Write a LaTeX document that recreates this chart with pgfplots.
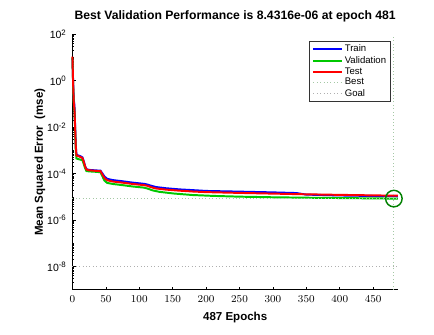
\documentclass[border=0pt]{standalone}
\usepackage{fontspec}
\setmainfont{Liberation Sans}
\usepackage{pgfplots}
\pgfplotsset{compat=1.18}
\definecolor{mtrain}{RGB}{0,0,255}
\definecolor{mval}{RGB}{0,200,0}
\definecolor{mtest}{RGB}{255,0,0}
\definecolor{mbest}{RGB}{165,200,165}
\definecolor{mgoal}{RGB}{175,175,175}
\definecolor{mcirc}{RGB}{0,128,0}

\begin{document}
% minor ticks of the log axis, 2..9 in each decade plus the odd decades
\def\minorlist{1e-9,1e-7,1e-5,1e-3,1e-1,1e1}
\foreach \e in {-9,...,1}{\foreach \m in {2,...,9}{\xdef\minorlist{\minorlist,\m e\e}}}
\begin{tikzpicture}
\useasboundingbox (-49.7pt,-34pt) rectangle (275.8pt,221pt);
\begin{axis}[
    scale only axis,
    width=248.25pt, height=194.8pt,
    at={(0,0)}, anchor=south west,
    ymode=log,
    xmin=0, xmax=487,
    ymin=1e-9, ymax=1e2,
    axis x line*=bottom, axis y line*=left,
    axis line style={line width=0.6pt},
    tick align=inside,
    major tick length=2.4pt, minor tick length=1.4pt,
    every tick/.style={black, line width=0.5pt},
    xtick={0,50,...,450},
    ytick={1e-8,1e-6,1e-4,1e-2,1,1e2},
    yticklabels={10\textsuperscript{-8},10\textsuperscript{-6},10\textsuperscript{-4},10\textsuperscript{-2},10\textsuperscript{0},10\textsuperscript{2}},
    minor ytick/.expanded={\minorlist},
    tick label style={font=\fontsize{8}{9.5}\selectfont},
    xticklabel style={yshift=-1pt},
    yticklabel style={xshift=-1pt},
    title={Best Validation Performance is 8.4316e-06 at epoch 481},
    title style={font=\fontsize{9.3}{11}\bfseries, at={(axis description cs:0.5,1.0385)}, anchor=center},
    xlabel={487 Epochs},
    xlabel style={font=\fontsize{8.8}{10}\bfseries, at={(axis description cs:0.5,-0.108)}, anchor=center},
    ylabel={Mean Squared Error \ (mse)},
    ylabel style={font=\fontsize{8.8}{10}\bfseries, at={(axis description cs:-0.1,0.5)}, anchor=center},
    clip=false,
    legend image code/.code={\draw[#1] (0pt,0pt) -- (22pt,0pt);},
    legend cell align=left,
    legend style={at={(axis description cs:0.978,0.974)}, anchor=north east,
        font=\fontsize{7.3}{8}\selectfont, draw=black!80, line width=0.6pt,
        inner xsep=2pt, inner ysep=1.5pt, row sep=-0.6pt,
        nodes={inner sep=1.2pt}},
]
\addplot[mtrain, line width=1.5pt] coordinates {
  (0,9) (1,1.0) (2,0.15) (3,0.09) (4,0.012) (5,1.7e-3) (6,6.5e-4)
  (8,6.2e-4) (12,5.6e-4) (15,5e-4) (17,3.4e-4) (19,2.1e-4) (21,1.55e-4)
  (25,1.45e-4) (35,1.38e-4) (42,1.34e-4) (45,1e-4) (48,7.5e-5) (52,6e-5)
  (60,5.3e-5) (75,4.7e-5) (90,4.1e-5) (107,3.65e-5) (112,3.4e-5) (118,3e-5)
  (125,2.65e-5) (140,2.35e-5) (160,2.1e-5) (180,1.95e-5) (200,1.8e-5)
  (250,1.68e-5) (300,1.56e-5) (335,1.46e-5) (350,1.25e-5) (400,1.15e-5)
  (450,1.09e-5) (487,1.06e-5)
};
\addlegendentry{Train}
\addplot[mval, line width=1.5pt] coordinates {
  (0,10) (1,0.7) (2,0.1) (3,0.05) (4,8e-3) (5,1e-3) (6,4.5e-4)
  (8,4.3e-4) (12,4e-4) (15,3.8e-4) (17,2.6e-4) (19,1.7e-4) (21,1.3e-4)
  (25,1.25e-4) (35,1.2e-4) (42,1.15e-4) (45,7.5e-5) (48,5e-5) (52,4e-5)
  (60,3.6e-5) (75,3.2e-5) (90,2.8e-5) (107,2.5e-5) (112,2.3e-5) (120,1.9e-5)
  (130,1.65e-5) (151,1.4e-5) (180,1.2e-5) (211,1.1e-5) (250,1.02e-5)
  (300,9.6e-6) (350,9.2e-6) (400,8.9e-6) (450,8.6e-6) (481,8.4316e-6) (487,8.45e-6)
};
\addlegendentry{Validation}
\addplot[mtest, line width=1.5pt] coordinates {
  (0,11) (1,0.8) (2,0.12) (3,0.06) (4,0.01) (5,1.5e-3) (6,6e-4)
  (8,5.8e-4) (12,5.2e-4) (15,4.7e-4) (17,3.2e-4) (19,2e-4) (21,1.5e-4)
  (25,1.4e-4) (35,1.32e-4) (42,1.28e-4) (45,9e-5) (48,6.5e-5) (52,5.2e-5)
  (60,4.6e-5) (75,4.1e-5) (90,3.6e-5) (107,3.2e-5) (112,3e-5) (118,2.6e-5)
  (125,2.3e-5) (140,2.05e-5) (160,1.85e-5) (180,1.7e-5) (200,1.6e-5)
  (250,1.48e-5) (300,1.38e-5) (343,1.3e-5) (400,1.22e-5) (450,1.16e-5) (487,1.12e-5)
};
\addlegendentry{Test}
\addplot[mbest, dotted, line width=0.6pt] coordinates {(0,8.4316e-6) (487,8.4316e-6)};
\addlegendentry{Best}
\addplot[mgoal, dotted, line width=0.6pt] coordinates {(0,1e-8) (487,1e-8)};
\addlegendentry{Goal}
\addplot[mbest, dotted, line width=0.6pt, forget plot] coordinates {(481,1e-9) (481,1e2)};
\addplot[mcirc, only marks, mark=o, mark size=6.3pt, mark options={line width=1.1pt}, forget plot]
  coordinates {(481,8.4316e-6)};
\end{axis}
\end{tikzpicture}
\end{document}
